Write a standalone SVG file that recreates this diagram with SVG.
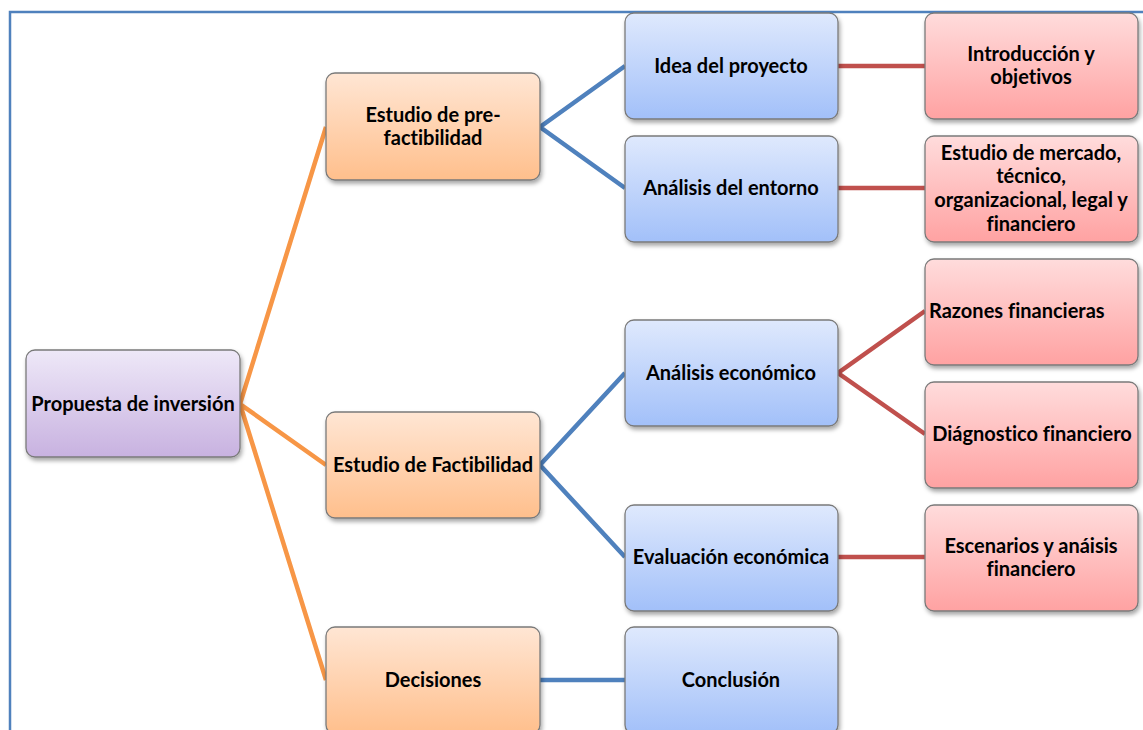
<svg xmlns="http://www.w3.org/2000/svg" width="1143" height="730" viewBox="0 0 1143 730">
<defs>
<linearGradient id="gP" x1="0" y1="0" x2="0" y2="1"><stop offset="0" stop-color="#EEE8F8"/><stop offset="1" stop-color="#C8B2E0"/></linearGradient>
<linearGradient id="gO" x1="0" y1="0" x2="0" y2="1"><stop offset="0" stop-color="#FFE6D4"/><stop offset="1" stop-color="#FFBF8C"/></linearGradient>
<linearGradient id="gB" x1="0" y1="0" x2="0" y2="1"><stop offset="0" stop-color="#DFE9FD"/><stop offset="1" stop-color="#A2C0F9"/></linearGradient>
<linearGradient id="gR" x1="0" y1="0" x2="0" y2="1"><stop offset="0" stop-color="#FFDCDC"/><stop offset="1" stop-color="#FFA2A2"/></linearGradient>
<filter id="sh" x="-10%" y="-10%" width="125%" height="130%"><feDropShadow dx="1.5" dy="3" stdDeviation="2" flood-color="#000" flood-opacity="0.35"/></filter>
</defs>
<style>
.n{stroke:#7A7A7A;stroke-width:1.3;filter:url(#sh)}
.t{font-family:Lato,"Liberation Sans",sans-serif;font-weight:bold;font-size:20px;fill:#000;text-anchor:middle;font-variant-ligatures:none}
.s{text-anchor:start}
.o{stroke:#F79646;stroke-width:4.5;fill:none}
.b{stroke:#4F81BD;stroke-width:4.5;fill:none}
.r{stroke:#C0504D;stroke-width:4.5;fill:none}
</style>
<rect width="1143" height="730" fill="#fff"/>
<path d="M10,730 V12 H1143" fill="none" stroke="#4F81BD" stroke-width="2.5"/>
<g id="connectors">
<path class="o" d="M326,127 L240,404 L326,465 M240,404 L326,680"/>
<path class="b" d="M625,66 L540,127 L625,188 M625,373 L540,465 L625,557 M540,680 H625"/>
<path class="r" d="M838,66 H925 M838,188 H925 M925,311 L838,373 L925,434 M838,557 H925"/>
</g>
<g id="n-propuesta"><rect class="n" x="26" y="350" width="214" height="107" rx="9" fill="url(#gP)"/><text class="t" x="133" y="411">Propuesta de inversión</text></g>
<g id="n-prefact"><rect class="n" x="326" y="73" width="214" height="107" rx="9" fill="url(#gO)"/><text class="t" x="433" y="122">Estudio de pre-</text><text class="t" x="433" y="145">factibilidad</text></g>
<g id="n-fact"><rect class="n" x="326" y="412" width="214" height="106" rx="9" fill="url(#gO)"/><text class="t" x="433" y="472">Estudio de Factibilidad</text></g>
<g id="n-decisiones"><rect class="n" x="326" y="627" width="214" height="107" rx="9" fill="url(#gO)"/><text class="t" x="433" y="687">Decisiones</text></g>
<g id="n-idea"><rect class="n" x="625" y="13" width="213" height="106" rx="9" fill="url(#gB)"/><text class="t" x="731" y="73">Idea del proyecto</text></g>
<g id="n-entorno"><rect class="n" x="625" y="136" width="213" height="106" rx="9" fill="url(#gB)"/><text class="t" x="731" y="195">Análisis del entorno</text></g>
<g id="n-economico"><rect class="n" x="625" y="320" width="213" height="106" rx="9" fill="url(#gB)"/><text class="t" x="731" y="380">Análisis económico</text></g>
<g id="n-evaluacion"><rect class="n" x="625" y="505" width="213" height="106" rx="9" fill="url(#gB)"/><text class="t" x="731" y="564">Evaluación económica</text></g>
<g id="n-conclusion"><rect class="n" x="625" y="627" width="213" height="107" rx="9" fill="url(#gB)"/><text class="t" x="731" y="687">Conclusión</text></g>
<g id="n-intro"><rect class="n" x="925" y="13" width="213" height="106" rx="9" fill="url(#gR)"/><text class="t" x="1031" y="61">Introducción y</text><text class="t" x="1031" y="84">objetivos</text></g>
<g id="n-estudio"><rect class="n" x="925" y="136" width="213" height="106" rx="9" fill="url(#gR)"/><text class="t" x="1031" y="160">Estudio de mercado,</text><text class="t" x="1031" y="183">técnico,</text><text class="t" x="1031" y="207">organizacional, legal y</text><text class="t" x="1031" y="231">financiero</text></g>
<g id="n-razones"><rect class="n" x="925" y="259" width="213" height="106" rx="9" fill="url(#gR)"/><text class="t s" x="929" y="318">Razones financieras</text></g>
<g id="n-diagnostico"><rect class="n" x="925" y="382" width="213" height="106" rx="9" fill="url(#gR)"/><text class="t" x="1032" y="441">Diágnostico financiero</text></g>
<g id="n-escenarios"><rect class="n" x="925" y="505" width="213" height="106" rx="9" fill="url(#gR)"/><text class="t" x="1031" y="553">Escenarios y anáisis</text><text class="t" x="1031" y="576">financiero</text></g>
</svg>
